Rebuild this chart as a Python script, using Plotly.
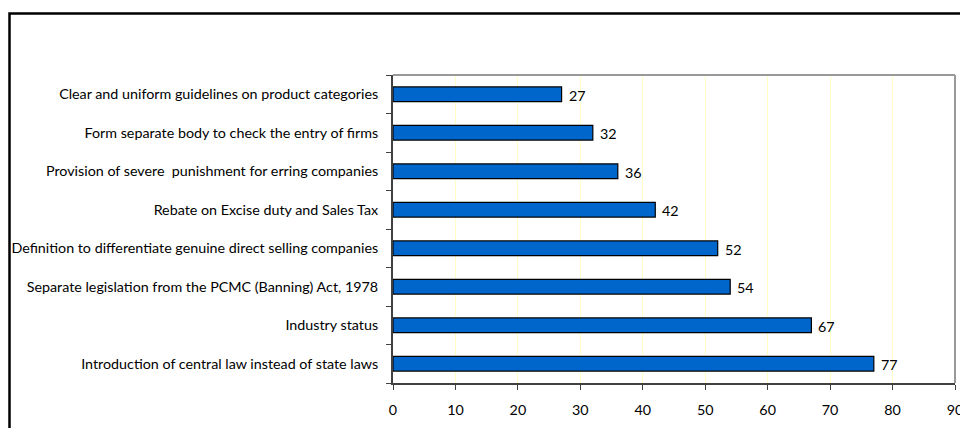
import plotly.graph_objects as go

categories = [
    "Clear and uniform guidelines on product categories",
    "Form separate body to check the entry of firms",
    "Provision of severe  punishment for erring companies",
    "Rebate on Excise duty and Sales Tax",
    "Definition to differentiate genuine direct selling companies",
    "Separate legislation from the PCMC (Banning) Act, 1978",
    "Industry status",
    "Introduction of central law instead of state laws",
]
values = [27, 32, 36, 42, 52, 54, 67, 77]
x_ticks = [0, 10, 20, 30, 40, 50, 60, 70, 80, 90]

W, H = 960, 428
L, R, T, B = 393, 5, 75, 45
pw, ph = W - L - R, H - T - B

FONT = "Lato"
FS = 14.3

fig = go.Figure(go.Bar(
    y=categories, x=values, orientation="h",
    marker=dict(color="#0066CC", line=dict(color="#000000", width=1.2)),
    width=0.38,
    hoverinfo="x+y",
))

for c, v in zip(categories, values):
    fig.add_annotation(x=v, y=c, text=str(v), showarrow=False,
                       xanchor="left", xshift=5, yshift=-1,
                       font=dict(family=FONT, size=FS, color="#000000"))

# outer chart border (extends beyond the visible window)
fig.add_shape(type="rect", xref="paper", yref="paper",
              x0=(9.5 - L) / pw, x1=(W + 20 - L) / pw,
              y0=-(B + 40) / ph, y1=1 + (T - 13.5) / ph,
              line=dict(color="#000000", width=2.5), layer="below")
# plot-area frame (top and right in gray)
fig.add_shape(type="line", xref="paper", yref="paper", x0=0, x1=1, y0=1, y1=1,
              line=dict(color="#999999", width=2))
fig.add_shape(type="line", xref="paper", yref="paper", x0=1, x1=1, y0=0, y1=1,
              line=dict(color="#999999", width=2))

fig.update_layout(
    width=W, height=H,
    margin=dict(l=L, r=R, t=T, b=B, autoexpand=False),
    paper_bgcolor="white", plot_bgcolor="white",
    showlegend=False,
    bargap=0.62,
    font=dict(family=FONT, size=FS, color="#000000"),
)
fig.update_xaxes(
    range=[0, 90], tickvals=x_ticks, ticktext=[str(t) for t in x_ticks],
    showgrid=True, gridcolor="#FFFFC8", gridwidth=1,
    showline=True, linecolor="#404040", linewidth=2,
    ticks="outside", ticklen=5, tickcolor="#404040", tickwidth=1,
    tickfont=dict(family=FONT, size=FS, color="#000000"),
    zeroline=False, fixedrange=True, automargin=False, ticklabelstandoff=8,
    ticklabeloverflow="allow",
)
fig.update_yaxes(
    categoryorder="array", categoryarray=categories[::-1],
    showline=True, linecolor="#404040", linewidth=2,
    ticks="outside", ticklen=5, tickcolor="#404040", tickwidth=1,
    tickson="boundaries",
    tickfont=dict(family=FONT, size=FS, color="#000000"),
    showgrid=False, zeroline=False, automargin=False, ticklabelstandoff=10,
    fixedrange=True,
)

fig.write_html("out.html", config={"displayModeBar": False},
               post_script="document.body.style.margin='0';document.body.style.overflow='hidden';")
